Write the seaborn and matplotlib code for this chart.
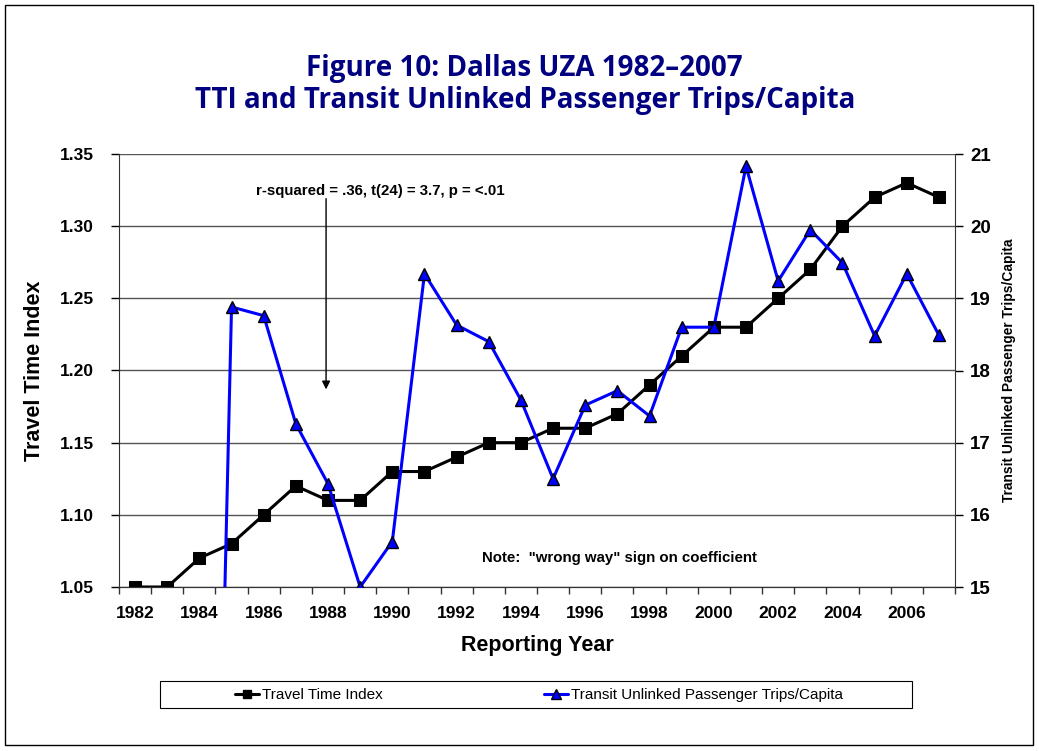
import matplotlib
matplotlib.use("Agg")
import matplotlib.pyplot as plt
import seaborn as sns
import pandas as pd
import numpy as np
from matplotlib.patches import Rectangle
from matplotlib.lines import Line2D

years = list(range(1982, 2008))
tti = [1.05, 1.05, 1.07, 1.08, 1.10, 1.12, 1.11, 1.11, 1.13, 1.13, 1.14, 1.15, 1.15,
       1.16, 1.16, 1.17, 1.19, 1.21, 1.23, 1.23, 1.25, 1.27, 1.30, 1.32, 1.33, 1.32]
transit = [0, 0, 0, 18.88, 18.76, 17.26, 16.43, 15.0, 15.63, 19.34, 18.63, 18.40, 17.59,
           16.50, 17.52, 17.72, 17.37, 18.60, 18.60, 20.83, 19.24, 19.95, 19.49, 18.48,
           19.34, 18.49]
year_labels = list(range(1982, 2008, 2))

df = pd.DataFrame({"year": years, "tti": tti, "transit": transit})

sns.set_style("white")
plt.rcParams["font.family"] = ["Liberation Sans", "DejaVu Sans"]
plt.rcParams["text.color"] = "black"
plt.rcParams["xtick.color"] = "black"
plt.rcParams["ytick.color"] = "black"
plt.rcParams["axes.labelcolor"] = "black"

fig = plt.figure(figsize=(10.39, 7.51), dpi=100)
ax = fig.add_axes([119/1039, 1-587/751, 836/1039, 433/751])
ax2 = ax.twinx()

# grid
ax.set_ylim(1.05, 1.35)
ax.set_yticks(np.arange(1.05, 1.351, 0.05))
ax.grid(axis="y", color="#555555", linewidth=1.0)
ax.set_axisbelow(True)

sns.lineplot(data=df, x="year", y="tti", ax=ax, color="black", linewidth=2.2,
             marker="s", markersize=8, markeredgecolor="black", zorder=3)
sns.lineplot(data=df, x="year", y="transit", ax=ax2, color="#0000ff", linewidth=2.2,
             marker="^", markersize=9, markeredgecolor="black", markeredgewidth=1.0,
             markerfacecolor="#0000ff", zorder=4)
ax2.set_ylim(15, 21)
ax2.set_yticks(range(15, 22))

ax.set_xlim(1981.5, 2007.5)
ax.set_xticks(year_labels)
ax.set_xticks(np.arange(1981.5, 2008, 1), minor=True)
ax.tick_params(axis="x", which="major", length=0, pad=14, labelsize=12.5)
ax.tick_params(axis="x", which="minor", length=5, width=1, color="#333333", direction="out", bottom=True)
ax.tick_params(axis="y", length=6, width=1, direction="out", left=True, labelsize=12.5, pad=12)
ax2.tick_params(axis="y", length=6, width=1, direction="out", right=True, labelsize=13.5, pad=5)
for lbl in ax.get_xticklabels():
    lbl.set_fontweight("bold")
ax.set_yticklabels([f"{v:.2f}" for v in np.arange(1.05, 1.351, 0.05)], fontweight="bold")
for lbl in ax2.get_yticklabels():
    lbl.set_fontweight("bold")

for a in (ax, ax2):
    a.spines["top"].set_visible(False)
    for s in ("left", "right", "bottom"):
        a.spines[s].set_color("#333333")
ax.spines["right"].set_visible(False)
ax2.spines["left"].set_visible(False)

ax.set_xlabel("Reporting Year", fontsize=15.5, fontweight="bold", labelpad=10)
ax.set_ylabel("Travel Time Index", fontsize=15.5, fontweight="bold", labelpad=11)
ax2.set_ylabel("Transit Unlinked Passenger Trips/Capita", fontsize=9.9, fontweight="bold", labelpad=8)

# annotations
ax.annotate("", xy=(1987.94, 1.185), xytext=(1987.94, 1.321),
            arrowprops=dict(arrowstyle="-|>", color="black", lw=1, mutation_scale=12))
ax.text(1989.62, 1.3245, "r-squared = .36, t(24) = 3.7, p = <.01", fontsize=10.8,
        fontweight="bold", ha="center", va="center")
ax.text(1997.05, 1.070, 'Note:  "wrong way" sign on coefficient', fontsize=10.8,
        fontweight="bold", ha="center", va="center")

fig.suptitle("Figure 10: Dallas UZA 1982\u20132007\nTTI and Transit Unlinked Passenger Trips/Capita",
             x=0.505, y=1-54/751, va="top", fontsize=20, fontweight="bold", color="#000080",
             family=["Open Sans", "DejaVu Sans"], linespacing=1.12)

handles = [Line2D([], [], color="black", lw=2.2, marker="s", markersize=6),
           Line2D([], [], color="#0000ff", lw=2.2, marker="^", markersize=7,
                  markerfacecolor="#0000ff", markeredgecolor="black")]
leg = fig.legend(handles, ["Travel Time Index", "Transit Unlinked Passenger Trips/Capita"],
                 loc="center", bbox_to_anchor=(539/1039, 1-695/751),
                 ncol=2, fontsize=11, handlelength=1.6, handletextpad=0.2,
                 columnspacing=10.5, frameon=False)

fig.patches.append(Rectangle((160/1039, 1-708/751), 752/1039, 27/751, transform=fig.transFigure,
                             fill=False, edgecolor="black", linewidth=0.8))
fig.patches.append(Rectangle((5/1039, 6/751), 1028/1039, 740/751, transform=fig.transFigure,
                             fill=False, edgecolor="black", linewidth=1.0))

fig.savefig("out.png", dpi=100)
